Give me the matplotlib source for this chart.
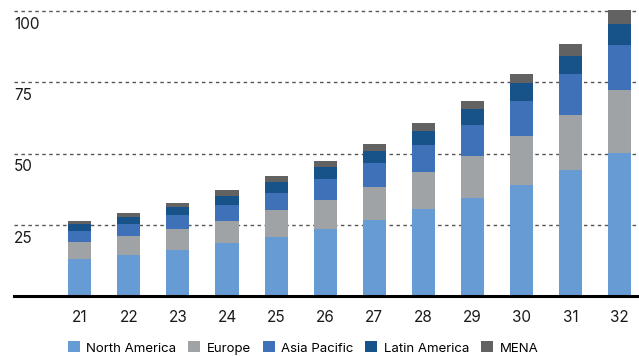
import numpy as np
import matplotlib
matplotlib.use("Agg")
import matplotlib.pyplot as plt

# market size by region, stacked per year
years = ["21", "22", "23", "24", "25", "26", "27", "28", "29", "30", "31", "32"]
north_america = [13.1, 14.5, 16.2, 18.7, 20.8, 23.6, 26.7, 30.6, 34.5, 39.0, 44.3, 50.2]
europe = [5.9, 6.6, 7.4, 7.7, 9.4, 10.1, 11.6, 13.0, 14.7, 17.2, 19.2, 22.1]
asia_pacific = [3.9, 4.2, 4.9, 5.6, 6.0, 7.4, 8.4, 9.4, 10.8, 12.2, 14.4, 15.8]
latin_america = [2.4, 2.5, 2.8, 3.2, 3.8, 4.2, 4.2, 4.9, 5.6, 6.4, 6.3, 7.3]
mena = [1.1, 1.4, 1.4, 2.1, 2.1, 2.1, 2.5, 2.8, 2.8, 3.1, 4.2, 5.0]
yticks = [25, 50, 75, 100]

series = [
    ("North America", north_america, "#679bd4"),
    ("Europe", europe, "#9fa3a6"),
    ("Asia Pacific", asia_pacific, "#3f71b9"),
    ("Latin America", latin_america, "#175289"),
    ("MENA", mena, "#616261"),
]

plt.rcParams["font.family"] = ["Inter", "DejaVu Sans"]

fig = plt.figure(figsize=(6.39, 3.56), dpi=100)
ax = fig.add_axes([14 / 639, 1 - 296.3 / 356, 1 - 14 / 639, 296.3 / 356])

x = np.arange(len(years))
bottom = np.zeros(len(years))
for name, vals, col in series:
    ax.bar(x, vals, 0.47, bottom=bottom, color=col, label=name, zorder=2)
    bottom += np.array(vals)

for t in yticks:
    ax.axhline(t, color="#555555", lw=1, ls=(0, (2.5, 2.5)), zorder=1)
    ax.annotate(str(t), xy=(0, t), xycoords=("axes fraction", "data"),
                xytext=(0, -4), textcoords="offset points",
                ha="left", va="top", fontsize=11, color="#1a1a1a")
ax.axhline(0, color="black", lw=2.2, zorder=3, clip_on=False)

ax.set_xlim(-1.338, 11.39)
ax.set_ylim(0, 103.9)
ax.set_xticks(x)
ax.set_xticklabels(years, fontsize=11, color="#1a1a1a")
ax.tick_params(axis="x", length=0, pad=10)
ax.set_yticks([])
for s in ax.spines.values():
    s.set_visible(False)

fig.legend(loc="center", bbox_to_anchor=(303 / 639, 1 - 348 / 356), ncol=5,
           frameon=False, fontsize=9.5, handlelength=0.9, handleheight=0.9,
           handletextpad=0.5, columnspacing=0.9, borderaxespad=0)

fig.savefig("out.png", dpi=100)
